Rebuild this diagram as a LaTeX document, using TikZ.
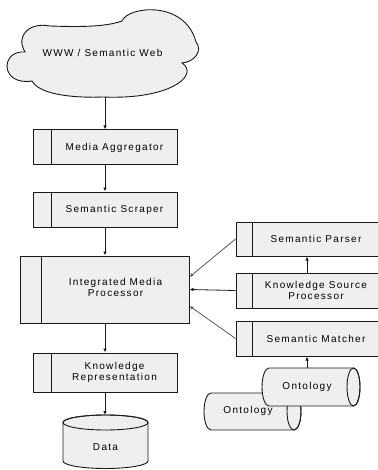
\documentclass[tikz,border=0pt]{standalone}
\usepackage{fontspec}
\setmainfont{Liberation Sans}[LetterSpace=13]
\usetikzlibrary{arrows.meta}
\definecolor{boxfill}{HTML}{EFEFEF}
\definecolor{linec}{HTML}{1A1A1A}
\begin{document}
\begin{tikzpicture}[x=1pt,y=-1pt,
  font=\fontsize{10pt}{11pt}\selectfont,
  procbox/.style={draw=linec, fill=boxfill, line width=1pt, inner sep=0pt, rectangle},
  shapeline/.style={draw=linec, fill=boxfill, line width=0.9pt},
  divline/.style={draw=linec, line width=0.9pt},
  lbl/.style={inner sep=0pt, align=center, text=black},
  arr/.style={draw=linec, line width=0.8pt, -{Latex[length=4pt,width=3.5pt]}},
  garr/.style={arr, draw=black!65}
]
\useasboundingbox (0,0) rectangle (377,470);

% cloud
\path[shapeline] (25,52) .. controls (15,35) and (30,22) .. (50,26)
  .. controls (80,27) and (105,27) .. (122,21)
  .. controls (128,6) and (185,0) .. (196,42)
  .. controls (203,50) and (195,62) .. (182,63)
  .. controls (200,75) and (170,100) .. (103,97)
  .. controls (80,98) and (40,96) .. (32,81)
  .. controls (0,86) and (0,50) .. (25,52) -- cycle;
\node[lbl] (www) at (102.5,53) {WWW / Semantic Web};
\coordinate (cloudbot) at (105,97);

% left column boxes
\node[procbox, minimum width=144pt, minimum height=35pt] (ma) at (105,147.5) {};
\draw[divline] ([xshift=19pt]ma.north west) -- ([xshift=19pt]ma.south west);
\node[lbl] (matx) at (114.5,147.5) {Media Aggregator};

\node[procbox, minimum width=144pt, minimum height=35pt] (ss) at (105,209.5) {};
\draw[divline] ([xshift=19pt]ss.north west) -- ([xshift=19pt]ss.south west);
\node[lbl] (sstx) at (114.5,209.5) {Semantic Scraper};

\node[procbox, minimum width=169pt, minimum height=67pt] (imp) at (104.5,289.5) {};
\draw[divline] ([xshift=22pt]imp.north west) -- ([xshift=22pt]imp.south west);
\node[lbl] (imptx) at (115.5,287) {Integrated Media\\Processor};

\node[procbox, minimum width=144pt, minimum height=39pt] (kr) at (105,372.5) {};
\draw[divline] ([xshift=19pt]kr.north west) -- ([xshift=19pt]kr.south west);
\node[lbl] (krtx) at (114.5,372) {Knowledge\\Representation};

% data cylinder
\path[shapeline] (63,422.5) -- (63,461)
  arc[start angle=180, end angle=360, x radius=42.5pt, y radius=7.5pt]
  -- (148,422.5)
  arc[start angle=0, end angle=180, x radius=42.5pt, y radius=7.5pt] -- cycle;
\draw[divline] (105.5,422.5) ellipse[x radius=42.5pt, y radius=7.5pt];
\node[lbl] (data) at (105.5,447) {Data};
\coordinate (datatop) at (105,415);

% right column boxes
\node[procbox, minimum width=142pt, minimum height=34pt] (sp) at (307,239) {};
\draw[divline] ([xshift=17pt]sp.north west) -- ([xshift=17pt]sp.south west);
\node[lbl] (sptx) at (316,239) {Semantic Parser};

\node[procbox, minimum width=142pt, minimum height=35pt] (ksp) at (307,290.5) {};
\draw[divline] ([xshift=17pt]ksp.north west) -- ([xshift=17pt]ksp.south west);
\node[lbl] (ksptx) at (316,290) {Knowledge Source\\Processor};

\node[procbox, minimum width=142pt, minimum height=35pt] (sm) at (307,338.5) {};
\draw[divline] ([xshift=17pt]sm.north west) -- ([xshift=17pt]sm.south west);
\node[lbl] (smtx) at (316,338.5) {Semantic Matcher};

% ontology cylinders (horizontal)
\path[shapeline] (211,393) -- (294,393)
  arc[start angle=90, end angle=-90, x radius=7pt, y radius=18.5pt]
  -- (211,430)
  arc[start angle=270, end angle=90, x radius=7pt, y radius=18.5pt] -- cycle;
\draw[divline] (294,411.5) ellipse[x radius=7pt, y radius=18.5pt];
\node[lbl] (ont2) at (248,411) {Ontology};

\path[shapeline] (269,368) -- (353.5,368)
  arc[start angle=90, end angle=-90, x radius=6.5pt, y radius=19pt]
  -- (269,406)
  arc[start angle=270, end angle=90, x radius=7pt, y radius=19pt] -- cycle;
\draw[divline] (353.5,387) ellipse[x radius=6.5pt, y radius=19pt];
\node[lbl] (ont1) at (307,387) {Ontology};
\coordinate (ont1top) at (307,368);

% connectors
\draw[arr] (cloudbot) -- (ma.north);
\draw[arr] (ma.south) -- (ss.north);
\draw[arr] (ss.south) -- ([xshift=0.5pt]imp.north);
\draw[arr] (imp.south -| kr.north) -- (kr.north);
\draw[arr] (kr.south) -- (datatop);
\draw[garr] (sp.west) -- ([yshift=12.5pt]imp.east);
\draw[arr] (ksp.west) -- (imp.east);
\draw[garr] (sm.west) -- ([yshift=-16.5pt]imp.east);
\draw[arr] (ksp.north) -- (sp.south);
\draw[arr] (ont1top) -- (sm.south);
\end{tikzpicture}
\end{document}
